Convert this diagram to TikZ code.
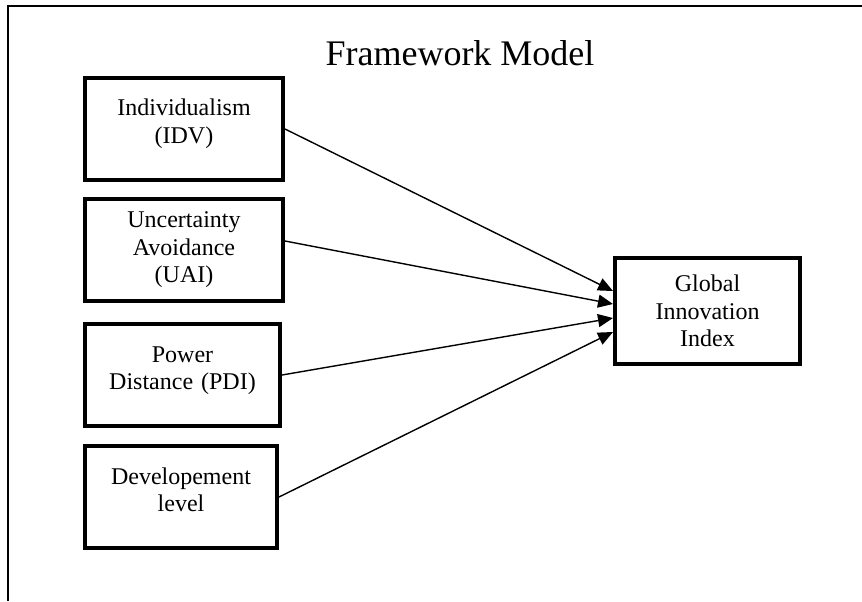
\documentclass[tikz,border=0pt]{standalone}
\usepackage{fontspec}
\setmainfont{Liberation Serif}
\usetikzlibrary{arrows.meta, positioning}
\tikzset{
  factor/.style={rectangle, draw=black, line width=2pt, fill=white,
                 minimum width=99pt, minimum height=51pt, text width=92pt,
                 align=center, inner sep=2pt,
                 font=\fontsize{12}{13.8}\selectfont},
  target/.style={factor, minimum width=92.5pt, minimum height=53pt,
                 text width=86pt},
  arrow/.style={-{Triangle[length=7.5pt, width=6.5pt]}, draw=black,
                line width=0.7pt},
  frame/.style={draw=black, line width=1pt},
}

\begin{document}
\begin{tikzpicture}
  \useasboundingbox (0,0) rectangle (431pt,-300.5pt);
  \draw[frame] (431pt,-3pt) -- (4pt,-3pt) -- (4pt,-300.5pt);

  \node[font=\fontsize{18}{21}\selectfont] (title) at (230pt,-26.5pt)
    {Framework Model};

  % cultural factors
  \node[factor, text depth=21.6pt] (idv) at (92pt,-64.5pt)
    {Individualism\\(IDV)};
  \node[factor, below=7.5pt of idv.south west, anchor=north west] (uai)
    {Uncertainty\\Avoidance\\(UAI)};
  \node[factor, minimum width=97.5pt, text depth=20.6pt,
        below=9.5pt of uai.south west, anchor=north west] (pdi)
    {Power\\Distance (PDI)};
  \node[factor, minimum width=96pt, text depth=21pt,
        below=8pt of pdi.south west, anchor=north west] (dev)
    {Developement\\level};

  % outcome
  \node[target] (gii) at (353.75pt,-155.5pt) {Global\\Innovation\\Index};

  \draw[arrow] (idv.east) -- ([yshift=10pt]gii.west);
  \draw[arrow] ([yshift=4.5pt]uai.east) -- ([yshift=3.5pt]gii.west);
  \draw[arrow] (pdi.east) -- ([yshift=-3.5pt]gii.west);
  \draw[arrow] (dev.east) -- ([yshift=-10.5pt]gii.west);
\end{tikzpicture}
\end{document}
